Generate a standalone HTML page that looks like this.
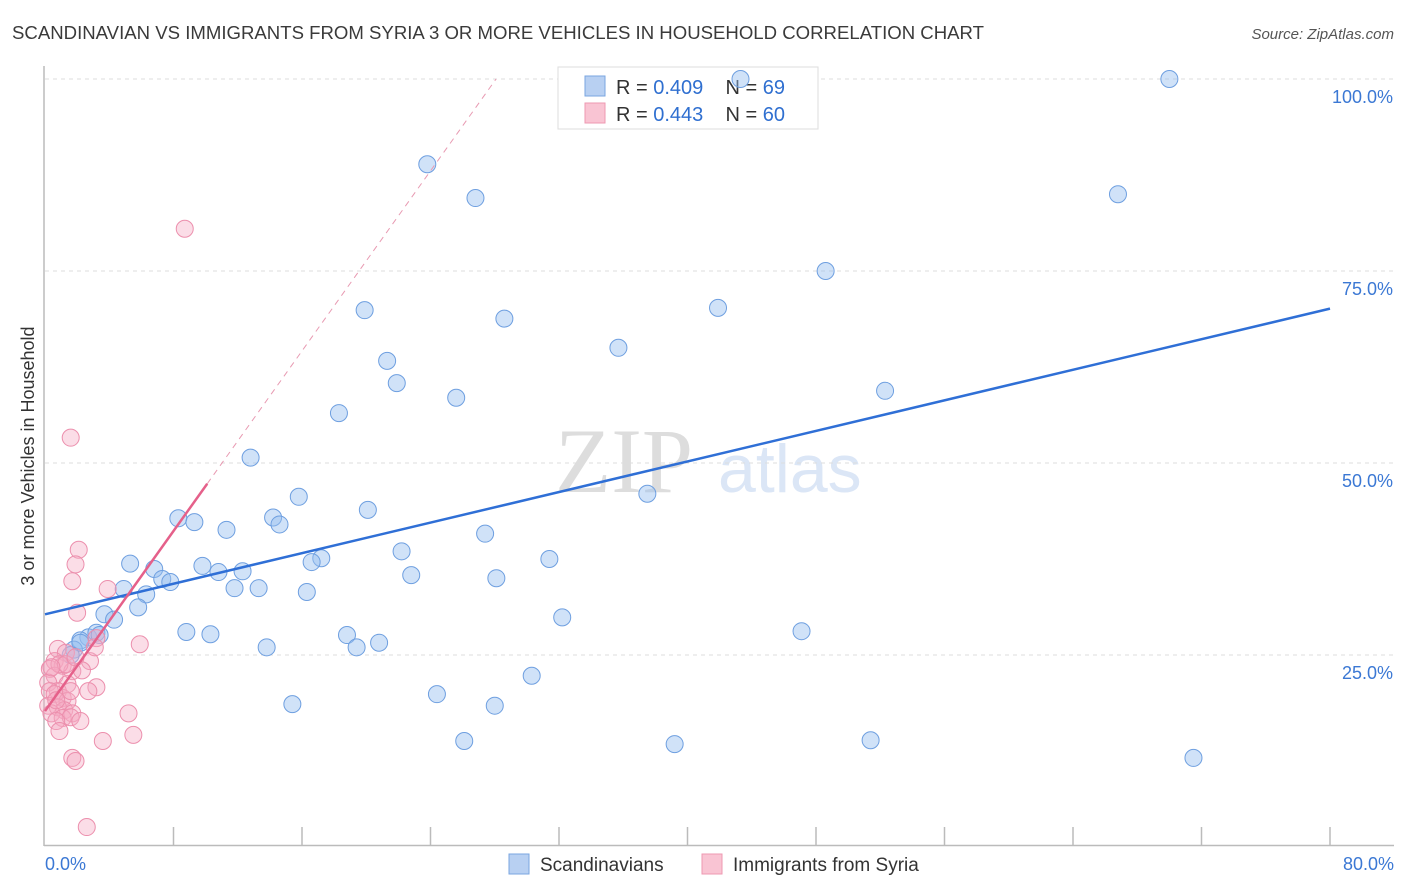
<!DOCTYPE html>
<html><head><meta charset="utf-8">
<style>
body{margin:0;background:#fff;font-family:"Liberation Sans",sans-serif;}
#wrap{position:relative;width:1406px;height:892px;overflow:hidden;}
</style></head>
<body><div id="wrap">
<svg id="chart" width="1406" height="892">
<text x="12" y="39" font-size="18" fill="#3a3a3a" textLength="972" lengthAdjust="spacingAndGlyphs">SCANDINAVIAN VS IMMIGRANTS FROM SYRIA 3 OR MORE VEHICLES IN HOUSEHOLD CORRELATION CHART</text>
<text x="1394" y="39" font-size="15" fill="#555" text-anchor="end" font-style="italic">Source: ZipAtlas.com</text>
<text x="34" y="456" font-size="18" fill="#333" text-anchor="middle" transform="rotate(-90 34 456)">3 or more Vehicles in Household</text>
<text x="555" y="492" font-size="92" fill="#ddd" font-family="Liberation Serif,serif">ZIP</text>
<text x="718" y="492" font-size="68" fill="#dbe6f6">atlas</text>
<g id="grid"></g><g id="axes"></g>
<g>
<rect x="558" y="67" width="260" height="62" fill="#fff" stroke="#ddd"/>
<rect x="585" y="76" width="20" height="20" fill="#b8d0f2" stroke="#7aa6e0"/>
<rect x="585" y="103" width="20" height="20" fill="#f9c4d3" stroke="#ee98b2"/>
<text x="616" y="94" font-size="20" fill="#333">R = <tspan fill="#2f6fd0">0.409</tspan>&#160;&#160;&#160;&#160;N = <tspan fill="#2f6fd0">69</tspan></text>
<text x="616" y="121" font-size="20" fill="#333">R = <tspan fill="#2f6fd0">0.443</tspan>&#160;&#160;&#160;&#160;N = <tspan fill="#2f6fd0">60</tspan></text>
</g>
<g id="pts"></g><g id="trend"></g>
<g>
<rect x="509" y="854" width="20" height="20" fill="#b8d0f2" stroke="#7aa6e0"/>
<text x="540" y="871" font-size="19" fill="#333">Scandinavians</text>
<rect x="702" y="854" width="20" height="20" fill="#f9c4d3" stroke="#ee98b2"/>
<text x="733" y="871" font-size="19" fill="#333">Immigrants from Syria</text>
</g>
</svg>
<script>
const yTicks=[25,50,75,100];
const yTickLabels=["25.0%","50.0%","75.0%","100.0%"];
const blueX=[43.3,70.0,23.8,26.8,66.8,48.6,41.9,19.9,28.6,35.7,21.3,21.9,52.3,25.6,18.3,12.8,37.5,15.8,8.3,9.3,20.1,14.2,14.6,11.3,27.4,22.2,31.4,5.3,17.2,16.6,6.8,9.8,12.3,10.8,7.3,7.8,22.8,28.1,4.9,11.8,13.3,6.3,16.3,5.8,3.7,4.3,32.2,8.8,10.3,47.1,2.7,3.2,2.2,18.8,20.8,19.4,13.8,1.8,30.3,24.4,15.4,28.0,26.1,39.2,51.4,71.5,2.2,1.6,3.4];
const blueY=[100,100,88.9,84.5,85.0,75.0,70.2,69.9,68.8,65.0,63.3,60.4,59.4,58.5,56.5,50.7,46.0,45.6,42.8,42.3,43.9,42.9,42.0,41.3,40.8,38.5,37.5,36.9,37.6,37.1,36.2,36.6,35.9,35.8,34.9,34.5,35.4,35.0,33.6,33.7,33.7,32.9,33.2,31.2,30.3,29.6,29.9,28.0,27.7,28.1,27.3,27.9,26.9,27.6,26.6,26.0,26.0,25.7,22.3,19.9,18.6,18.4,13.8,13.4,13.9,11.6,26.6,25.0,27.6];
const pinkX=[8.7,1.6,2.1,1.9,1.7,3.9,2.0,5.9,3.2,0.8,1.3,2.8,0.6,1.1,0.3,1.7,0.6,0.2,1.4,0.8,0.3,3.2,2.7,0.6,1.1,1.4,0.2,0.8,1.2,0.4,1.7,1.1,1.6,2.2,0.7,5.2,0.9,3.6,5.5,1.7,1.9,2.6,3.1,0.9,1.3,1.9,0.4,2.3,1.6,0.7];
const pinkY=[80.5,53.3,38.7,36.8,34.6,33.6,30.5,26.4,27.2,25.8,25.3,24.2,24.2,23.6,23.2,22.9,22.3,21.4,21.2,20.3,20.3,20.8,20.3,19.9,19.4,19.0,18.4,18.2,17.8,17.4,17.4,16.8,16.9,16.4,16.4,17.4,15.1,13.8,14.6,11.6,11.2,2.6,26.0,23.8,23.8,24.7,23.4,23.0,20.3,19.1];
const blueTrend=[0,30.3,80,70.1];
const pinkTrend=[0,17.7,10.1,47.3];
const ns="http://www.w3.org/2000/svg";
const X=v=>45+v/80*1285, Y=v=>847-v/100*768;
function mk(tag,at,parent){const e=document.createElementNS(ns,tag);for(const k in at)e.setAttribute(k,at[k]);document.getElementById(parent).appendChild(e);return e;}
yTicks.forEach((t,i)=>{
 const g=mk('line',{x1:45,x2:1394,y1:Y(t),y2:Y(t),stroke:'#ddd','stroke-dasharray':'4,4'},'grid');
 
 
 const l=mk('text',{x:1393,y:Y(t)+24,'font-size':18,fill:'#3b78d4','text-anchor':'end'},'grid');
 l.textContent=yTickLabels[i];
 
 
});
const ax=mk('line',{x1:44,x2:44,y1:66,y2:846,stroke:'#bbb','stroke-width':1.5},'axes');


const bx=mk('line',{x1:44,x2:1394,y1:845.5,y2:845.5,stroke:'#bbb','stroke-width':1.5},'axes');


for(let i=1;i<=10;i++){const t=mk('line',{x1:X(i*8),x2:X(i*8),y1:827,y2:845,stroke:'#bbb','stroke-width':1.5},'axes');
 
 }
const xl0=mk('text',{x:45,y:870,'font-size':18,fill:'#3b78d4'},'axes');xl0.textContent='0.0%';


const xl1=mk('text',{x:1394,y:870,'font-size':18,fill:'#3b78d4','text-anchor':'end'},'axes');xl1.textContent='80.0%';


blueX.forEach((v,i)=>{const c=mk('circle',{cx:X(v),cy:Y(blueY[i]),r:8.5,fill:'rgba(150,190,240,0.45)',stroke:'#6e9fe0','stroke-width':1},'pts');
 
 });
pinkX.forEach((v,i)=>{const c=mk('circle',{cx:X(v),cy:Y(pinkY[i]),r:8.5,fill:'rgba(245,170,195,0.4)',stroke:'#ec8fad','stroke-width':1},'pts');
 
 });
const bt=mk('line',{x1:X(blueTrend[0]),y1:Y(blueTrend[1]),x2:X(blueTrend[2]),y2:Y(blueTrend[3]),stroke:'#2f6fd6','stroke-width':2.5},'trend');


const slope=(pinkTrend[3]-pinkTrend[1])/(pinkTrend[2]-pinkTrend[0]);
const xe=pinkTrend[0]+(100-pinkTrend[1])/slope;
const pd=mk('line',{x1:X(pinkTrend[2]),y1:Y(pinkTrend[3]),x2:X(xe),y2:Y(100),stroke:'#e89ab2','stroke-width':1,'stroke-dasharray':'6,5'},'trend');


const pt=mk('line',{x1:X(pinkTrend[0]),y1:Y(pinkTrend[1]),x2:X(pinkTrend[2]),y2:Y(pinkTrend[3]),stroke:'#e5608a','stroke-width':2.5},'trend');


</script>
</div></body></html>
